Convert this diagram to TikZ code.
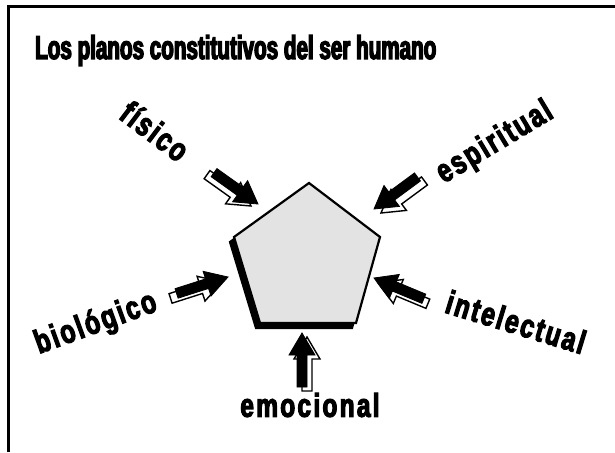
\documentclass[tikz,border=0pt]{standalone}
\usepackage{fontspec}
\newfontfamily\titlefont{Liberation Sans Bold}[FakeStretch=0.625,FakeBold=4]
\newfontfamily\labelfont{Liberation Sans Bold}[FakeStretch=0.74,FakeBold=3.5,LetterSpace=7]
\tikzset{
  titletext/.style={font=\titlefont\fontsize{33}{33}\selectfont, inner sep=0pt},
  labeltext/.style={font=\labelfont\fontsize{33}{33}\selectfont, inner sep=0pt},
  frameline/.style={line width=2.7pt},
  penta/.style={fill=gray!22, draw=black, line width=2.2pt, line join=miter},
  pentashadow/.style={fill=black, draw=black, line width=2.2pt},
  arrblack/.style={fill=black, draw=black, line width=0.8pt, line join=miter},
  arrwhite/.style={fill=white, draw=black, line width=1.4pt, line join=miter}
}
% block arrow: tip at origin, pointing along +x
\newcommand{\blockarrowshape}{(0,0) -- (-22,13) -- (-22,5) -- (-54,5) -- (-54,-5) -- (-22,-5) -- (-22,-13) -- cycle}
% #1 tip x, #2 tip y (image coords), #3 angle (canvas), #4 white offset x, #5 white offset y (image)
\newcommand{\shadedarrow}[5]{%
  \begin{scope}[shift={(#1+#4,#2+#5)}, rotate=#3, x=1pt, y=1pt]
    \path[arrwhite] \blockarrowshape;
  \end{scope}
  \begin{scope}[shift={(#1,#2)}, rotate=#3, x=1pt, y=1pt]
    \path[arrblack] \blockarrowshape;
  \end{scope}}
\begin{document}
\begin{tikzpicture}[x=1pt, y=-1pt]
\useasboundingbox (0,0) rectangle (615,452);
% frame
\draw[frameline] (615,6.5) -- (8.5,6.5) -- (8.5,452);
% title
\node[titletext, anchor=base west] (title) at (35,59) {Los planos constitutivos del ser humano};
% pentagon
\coordinate (p1) at (309,183);
\coordinate (p2) at (380,237);
\coordinate (p3) at (356,323);
\coordinate (p4) at (260,323);
\coordinate (p5) at (234,237);
\path[pentashadow] ([shift={(-4,5)}]p1) -- ([shift={(-4,5)}]p2) -- ([shift={(-4,5)}]p3) -- ([shift={(-4,5)}]p4) -- ([shift={(-4,5)}]p5) -- cycle;
\path[penta] (p1) -- (p2) -- (p3) -- (p4) -- (p5) -- cycle;
% arrows
\shadedarrow{258}{204}{-35.5}{-7}{2}
\shadedarrow{374}{209}{-143.6}{7}{4}
\shadedarrow{228}{277}{17.7}{-6}{5}
\shadedarrow{374}{278}{157.4}{4}{5}
\shadedarrow{302}{333}{90}{5}{4}
% labels
\node[labeltext, rotate=-37] (fisico) at (155,131) {físico};
\node[labeltext, rotate=31] (espiritual) at (495,143) {espiritual};
\node[labeltext, rotate=20] (biologico) at (96,324) {biológico};
\node[labeltext, rotate=-17] (intelectual) at (516,322) {intelectual};
\node[labeltext] (emocional) at (310,405) {emocional};
\end{tikzpicture}
\end{document}
